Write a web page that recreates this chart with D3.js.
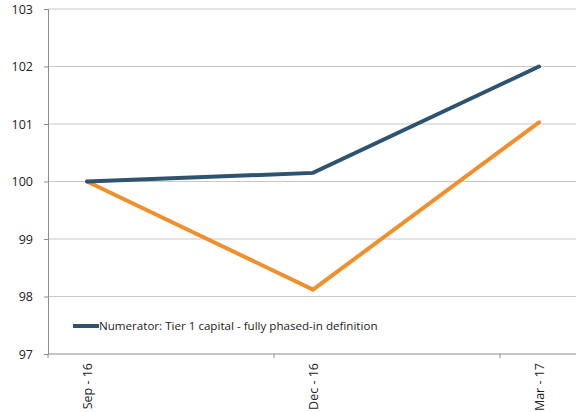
<!DOCTYPE html>
<html><head><meta charset="utf-8">
<script src="https://cdn.jsdelivr.net/npm/d3@7"></script>
<style>body{margin:0;background:#fff;}svg{display:block;font-family:"Open Sans",sans-serif;}</style>
</head><body>
<svg id="c" width="578" height="412"></svg>
<script>
const categories = ["Sep - 16", "Dec - 16", "Mar - 17"];
const tier1 = [100, 100.15, 102.0];
const orange = [100, 98.12, 101.03];
const yTicks = [97, 98, 99, 100, 101, 102, 103];
const seriesName = "Numerator: Tier 1 capital - fully phased-in definition";

(function(){
const svg = d3.select("#c");
const mLeft = 48, mRight = 576, mTop = 9, mBottom = 354;
const y = d3.scaleLinear().domain([97, 103]).range([mBottom, mTop]);
const step = 226;
const x = d3.scalePoint().domain(categories).range([87, 87 + step * 2]);

svg.append("g").selectAll("line").data(yTicks.filter(d => d !== 97)).join("line")
  .attr("x1", mLeft).attr("x2", mRight).attr("y1", d => y(d)).attr("y2", d => y(d))
  .attr("stroke", "#c8c8c8").attr("stroke-width", 1);

const ya = svg.append("g").attr("transform", `translate(${mLeft},0)`)
  .call(d3.axisLeft(y).tickValues(yTicks).tickSize(4).tickPadding(11).tickFormat(d3.format("d")));
ya.select(".domain").attr("stroke", "#8c8c8c");
ya.selectAll(".tick line").attr("stroke", "#8c8c8c");
ya.selectAll("text").attr("fill", "#222").style("font-size", "12.5px").style("font-family", "Open Sans");

svg.append("line").attr("x1", mLeft).attr("x2", mRight).attr("y1", mBottom).attr("y2", mBottom)
  .attr("stroke", "#8c8c8c");
svg.append("g").selectAll("line").data(categories).join("line")
  .attr("x1", d => x(d) - 39).attr("x2", d => x(d) - 39)
  .attr("y1", mBottom).attr("y2", mBottom + 4).attr("stroke", "#8c8c8c");
svg.append("g").selectAll("text").data(categories).join("text")
  .attr("transform", d => `translate(${x(d) + 5},${mBottom + 9}) rotate(-90)`)
  .attr("text-anchor", "end").attr("fill", "#222").style("font-size", "12.5px")
  .text(d => d);

const line = d3.line().x((d, i) => x(categories[i])).y(d => y(d));
svg.append("path").datum(orange).attr("d", line).attr("fill", "none")
  .attr("stroke", "#F0902C").attr("stroke-width", 4).attr("stroke-linecap", "round");
svg.append("path").datum(tier1).attr("d", line).attr("fill", "none")
  .attr("stroke", "#2D5370").attr("stroke-width", 4).attr("stroke-linecap", "round");

svg.append("line").attr("x1", 73).attr("x2", 99).attr("y1", 326).attr("y2", 326)
  .attr("stroke", "#2D5370").attr("stroke-width", 4);
svg.append("text").attr("x", 99).attr("y", 330).attr("fill", "#222").style("font-size", "11.6px")
  .text(seriesName);
})();
</script>
</body></html>
